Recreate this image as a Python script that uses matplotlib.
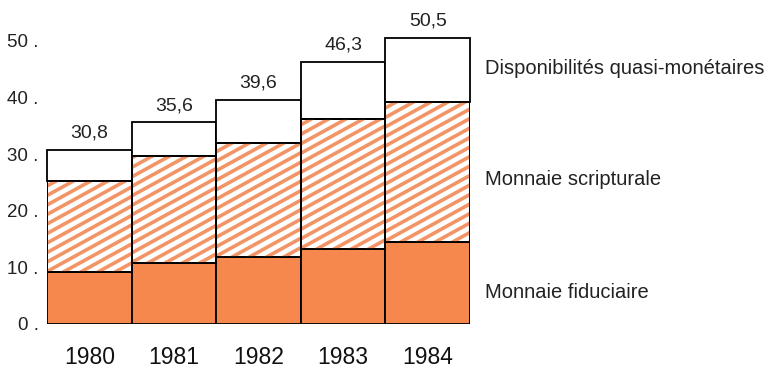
import matplotlib
matplotlib.use("Agg")
import matplotlib.pyplot as plt
import numpy as np
from matplotlib.collections import LineCollection

plt.rcParams["font.family"] = ["Liberation Sans", "DejaVu Sans"]

years = ["1980", "1981", "1982", "1983", "1984"]
totals = [30.8, 35.6, 39.6, 46.3, 50.5]
fiduciaire = [9.1, 10.7, 11.8, 13.2, 14.5]
scripturale = [16.2, 19.0, 20.1, 23.0, 24.8]
total_labels = ["30,8", "35,6", "39,6", "46,3", "50,5"]
yticks = [0, 10, 20, 30, 40, 50]
series_names = ["Disponibilités quasi-monétaires", "Monnaie scripturale", "Monnaie fiduciaire"]

ORANGE = "#F6884E"
STRIPE = "#F29466"

W, H = 771, 368
fig = plt.figure(figsize=(W / 100, H / 100), dpi=100)
fig.patch.set_facecolor("white")

ax_l, ax_b, ax_w, ax_h = 47 / W, 44 / H, 423 / W, 300 / H
ax = fig.add_axes([ax_l, ax_b, ax_w, ax_h])
ax.set_xlim(-0.5, 4.5)
ax.set_ylim(0, 53)

x = np.arange(len(years))
fid = np.array(fiduciaire)
scr = np.array(scripturale)
quasi = np.array(totals) - fid - scr

ax.bar(x, fid, width=1.0, color=ORANGE, edgecolor="black", linewidth=1.3, zorder=2)
scr_bars = ax.bar(x, scr, bottom=fid, width=1.0, color="white", edgecolor="black",
                  linewidth=1.3, zorder=2)
ax.bar(x, quasi, bottom=fid + scr, width=1.0, color="white", edgecolor="black",
       linewidth=1.3, zorder=2, clip_on=False)

# diagonal stripes in the middle segment (shallower than the built-in hatch)
px_x = ax_w * W / 5.0
px_y = ax_h * H / 53.0
slope = 0.55 * px_x / px_y          # data units of y per unit of x
period = 9.5 / px_y                 # vertical distance between stripes
for b in scr_bars:
    x0, y0 = b.get_x(), b.get_y()
    w, h = b.get_width(), b.get_height()
    offs = np.arange(y0 - slope * w - period, y0 + h + period, period)
    segs = [[(x0, o), (x0 + w, o + slope * w)] for o in offs]
    lc = LineCollection(segs, colors=STRIPE, linewidths=2.6, zorder=2.5)
    ax.add_collection(lc)
    # clip after adding, otherwise add_collection resets it to the axes patch
    lc.set_clip_path(b)
# redraw the outlines above the stripes
for b in scr_bars:
    r = plt.Rectangle((b.get_x(), b.get_y()), b.get_width(), b.get_height(),
                      fill=False, edgecolor="black", linewidth=1.3, zorder=3)
    ax.add_patch(r)

for xi, t, lab in zip(x, totals, total_labels):
    ax.annotate(lab, xy=(xi, t), xytext=(0, 6), textcoords="offset points",
                ha="center", va="bottom", fontsize=14, color="#222222",
                annotation_clip=False)

for s in ax.spines.values():
    s.set_visible(False)
ax.set_yticks(yticks)
ax.set_yticklabels([f"{v} ." for v in yticks], fontsize=13.5, color="#222222")
ax.set_xticks(x)
ax.set_xticklabels(years, fontsize=16.5, color="#111111")
ax.tick_params(axis="y", length=0, pad=6)
ax.tick_params(axis="x", length=0, pad=16)

for name, ypix in zip(series_names, [68, 180, 292]):
    fig.text(485 / W, 1 - ypix / H, name, ha="left", va="center",
             fontsize=14.5, color="#222222")

fig.savefig("out.png", dpi=100)
